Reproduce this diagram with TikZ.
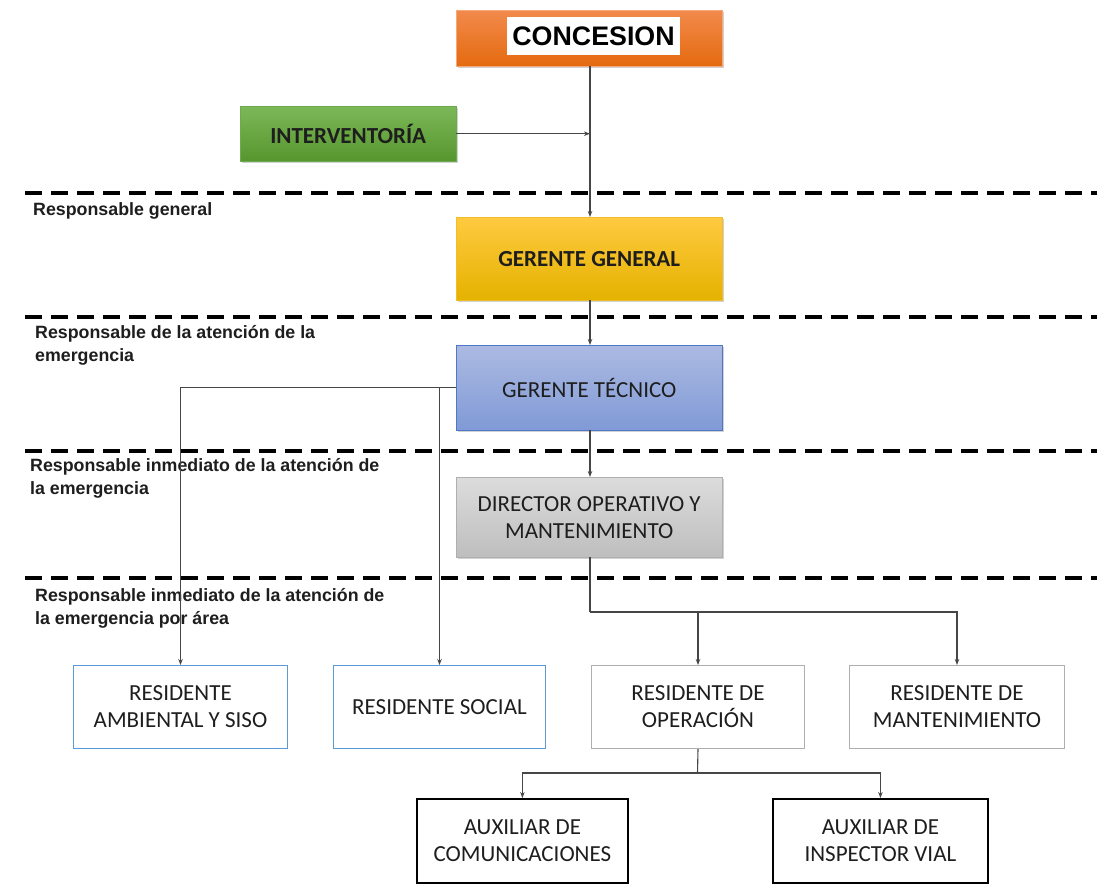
\documentclass[tikz,border=0pt]{standalone}
\usepackage{fontspec}
\setmainfont{Carlito}
\newfontfamily\arialf{Liberation Sans}
\usetikzlibrary{arrows.meta,shadows}
\definecolor{lnc}{RGB}{70,70,70}
\definecolor{orT}{RGB}{242,138,76}
\definecolor{orB}{RGB}{228,106,14}
\definecolor{orD}{RGB}{244,170,120}
\definecolor{grT}{RGB}{124,184,88}
\definecolor{grB}{RGB}{86,150,46}
\definecolor{grD}{RGB}{110,170,80}
\definecolor{yeT}{RGB}{255,202,64}
\definecolor{yeB}{RGB}{228,178,0}
\definecolor{yeD}{RGB}{240,190,40}
\definecolor{blT}{RGB}{172,186,226}
\definecolor{blB}{RGB}{128,154,214}
\definecolor{blD}{RGB}{80,120,200}
\definecolor{gyT}{RGB}{220,220,220}
\definecolor{gyB}{RGB}{190,190,190}
\definecolor{gyD}{RGB}{175,175,175}
\definecolor{lbl}{RGB}{91,155,213}
\definecolor{lgy}{RGB}{175,175,175}
\definecolor{txt}{RGB}{30,30,30}
\begin{document}
\begin{tikzpicture}[x=1pt,y=-1pt,
  box/.style={rectangle, inner sep=0pt, align=center, anchor=north west, text=txt,
    font=\fontsize{23}{27}\selectfont},
  bbox/.style={box, font=\bfseries\fontsize{23}{27}\selectfont},
  shad/.style={drop shadow={shadow xshift=1.5pt, shadow yshift=-1.5pt, fill=black!40, opacity=0.45}},
  conn/.style={draw=lnc, line width=1.1pt},
  arr/.style={conn, -{Stealth[length=6pt,width=4.5pt]}},
  sep/.style={line width=3.6pt, dash pattern=on 17pt off 9pt},
  lab/.style={anchor=west, align=left, inner sep=0pt, text=txt,
    font=\arialf\bfseries\fontsize{17.8}{23}\selectfont}]
\useasboundingbox (0,0) rectangle (1097,889);
\fill[white] (0,0) rectangle (1097,889);

% separators
\draw[sep] (25,193) -- (1097,193);
\draw[sep] (25,317) -- (1097,317);
\draw[sep] (25,451) -- (1097,451);
\draw[sep] (25,578) -- (1097,578);

% level labels
\node[lab] (l1) at (33,211) {Responsable general};
\node[lab] (l2) at (35,345.5) {Responsable de la atención de la\\emergencia};
\node[lab] (l3) at (30,478.5) {Responsable inmediato de la atención de\\la emergencia};
\node[lab] (l4) at (35,608) {Responsable inmediato de la atención de\\la emergencia por área};

% boxes
\node[box, shad, draw=orD, top color=orT, bottom color=orB, minimum width=266pt, minimum height=56pt] (con) at (456,10) {};
\node[rectangle, fill=white, inner sep=0pt, minimum width=173pt, minimum height=38pt,
  font=\arialf\bfseries\fontsize{26.8}{30}\selectfont, text=black] (conw) at (593.5,36) {CONCESION};
\node[bbox, shad, draw=grD, top color=grT, bottom color=grB, minimum width=216pt, minimum height=55pt] (int) at (240,106) {INTERVENTORÍA};
\node[bbox, shad, draw=yeD, top color=yeT, bottom color=yeB, minimum width=266pt, minimum height=83pt] (gg) at (456,217) {GERENTE GENERAL};
\node[box, shad, draw=blD, top color=blT, bottom color=blB, minimum width=266pt, minimum height=85pt] (gt) at (456,345) {GERENTE TÉCNICO};
\node[box, shad, draw=gyD, top color=gyT, bottom color=gyB, minimum width=266pt, minimum height=80pt] (dir) at (456,477) {DIRECTOR OPERATIVO Y\\MANTENIMIENTO};

\node[box, draw=lbl, line width=1pt, minimum width=214pt, minimum height=83pt] (amb) at (73,665) {RESIDENTE\\AMBIENTAL Y SISO};
\node[box, draw=lbl, line width=1pt, minimum width=212pt, minimum height=83pt] (soc) at (333,665) {RESIDENTE SOCIAL};
\node[box, draw=lgy, line width=1pt, minimum width=213pt, minimum height=83pt] (op) at (591,665) {RESIDENTE DE\\OPERACIÓN};
\node[box, draw=lgy, line width=1pt, minimum width=215pt, minimum height=83pt] (mant) at (849,665) {RESIDENTE DE\\MANTENIMIENTO};

\node[box, draw=black, line width=1.8pt, minimum width=211pt, minimum height=84pt] (aux1) at (416,798) {AUXILIAR DE\\COMUNICACIONES};
\node[box, draw=black, line width=1.8pt, minimum width=215pt, minimum height=84pt] (aux2) at (772,798) {AUXILIAR DE\\INSPECTOR VIAL};

% connectors
\coordinate (ax) at (590,0);
\draw[arr] (con.south -| ax) -- (gg.north -| ax);
\draw[arr] (int.east) -- (int.east -| ax);
\draw[arr] (gg.south -| ax) -- (gt.north -| ax);
\draw[arr] (gt.south -| ax) -- (dir.north -| ax);

\draw[arr] (gt.west) -| (amb.north);
\draw[arr] (gt.west -| soc.north) -- (soc.north);

\coordinate (j1) at (590,612);
\draw[conn] (dir.south -| j1) -- (j1);
\draw[arr] (j1) -| (mant.north);
\draw[arr] (j1 -| op.north) -- (op.north);

\coordinate (j2) at (697.5,773);
\draw[conn] (op.south) -- (j2);
\draw[arr] (j2) -| (aux1.north);
\draw[arr] (j2) -| (aux2.north);
\end{tikzpicture}
\end{document}
